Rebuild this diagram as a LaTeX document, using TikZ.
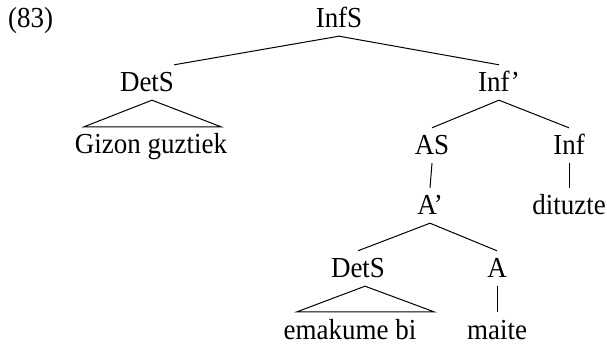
\documentclass[tikz,border=0pt]{standalone}
\usepackage{fontspec}
\setmainfont{Liberation Serif}[FakeStretch=0.93]
\newcommand\treefont{\fontsize{29}{32}\selectfont}
\begin{document}
\begin{tikzpicture}[x=1pt,y=1pt,
  lab/.style={anchor=base, inner xsep=0pt, inner ysep=8pt, text height=19pt, text depth=0pt, font=\treefont},
  br/.style={line width=1pt}]
\useasboundingbox (0,0) rectangle (607,-344);
\node[lab, anchor=base west] (ex) at (8,-28) {(83)};
\node[lab] (infs) at (339,-28) {InfS};
\node[lab] (dets1) at (147,-92) {DetS};
\node[lab] (giz) at (151,-154) {Gizon guztiek};
\node[lab] (infp) at (499,-92) {Inf’};
\node[lab] (as) at (432,-155) {AS};
\node[lab] (inf) at (569,-155) {Inf};
\node[lab] (ap) at (430,-215) {A’};
\node[lab] (dit) at (569,-215) {dituzte};
\node[lab] (dets2) at (358,-278) {DetS};
\node[lab] (a) at (497,-278) {A};
\node[lab] (ema) at (350,-339) {emakume bi};
\node[lab] (maite) at (497,-339) {maite};
\draw[br] (dets1.north east) -- (infs.south) -- (infp.north);
\draw[br] ([xshift=5pt]dets1.south) -- ([xshift=-67pt]giz.north) -- ([xshift=70pt]giz.north) -- cycle;
\draw[br] (as.north) -- (infp.south) -- (inf.north);
\draw[br] (as.south) -- (ap.north);
\draw[br] (inf.south) -- (dit.north);
\draw[br] (dets2.north) -- (ap.south) -- (a.north);
\draw[br] ([xshift=7pt]dets2.south) -- ([xshift=-53pt]ema.north) -- ([xshift=84pt]ema.north) -- cycle;
\draw[br] (a.south) -- (maite.north);
\end{tikzpicture}
\end{document}
